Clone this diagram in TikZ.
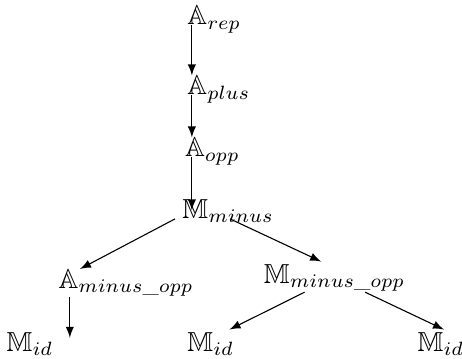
\documentclass[tikz,border=0pt]{standalone}
\usepackage{amsmath, amssymb}
\usepackage{tikz}
\usetikzlibrary{calc, positioning}

\begin{document}
\begin{tikzpicture}[>=latex, scale=1.0]
    \tikzset{term/.style={anchor=base west, inner sep=0pt}}
    \useasboundingbox (0,0) rectangle (5.91,4.59);

    % 1. Chuỗi các phép toán
    \node[term] (rep)   at (2.391,4.271) {$\mathbb{A}_{rep}$};
    \node[term] (plus)  at (2.391,3.376) {$\mathbb{A}_{plus}$};
    \node[term] (opp)   at (2.360,2.583) {$\mathbb{A}_{opp}$};
    \node[term] (minus) at (2.327,1.790) {$\mathbb{M}_{minus}$};

    % 2. Hai nhánh con
    \node[term] (aminusopp) at (0.742,0.900) {$\mathbb{A}_{minus\text{\_}opp}$};
    \node[term] (mminusopp) at (3.370,0.960) {$\mathbb{M}_{minus\text{\_}opp}$};

    % 3. Các lá
    \node[term] (idl) at (0.077,0.09) {$\mathbb{M}_{id}$};
    \node[term] (idm) at (2.391,0.09) {$\mathbb{M}_{id}$};
    \node[term] (idr) at (5.335,0.09) {$\mathbb{M}_{id}$};

    % 4. Mũi tên thẳng đứng
    \draw[->] ([xshift=1.8pt]rep.base west) -- ([xshift=1.8pt]rep.base west |- plus.north);
    \draw[->] ([xshift=1.8pt]plus.base west) -- ([xshift=1.8pt]plus.base west |- opp.north);
    \draw[->] ([xshift=1.8pt]plus.base west |- opp.base) -- ([xshift=1.8pt, yshift=-4pt]plus.base west |- minus.north);
    \draw[->] ([xshift=4.3pt]aminusopp.south west) -- ([xshift=4.3pt, yshift=-2pt]aminusopp.south west |- idl.north);

    % 5. Mũi tên xiên
    \draw[->] ([xshift=-2.5pt]minus.base west) -- ([xshift=8pt]aminusopp.north west);
    \draw[->] ([xshift=17.5pt]minus.base west) -- ([xshift=21pt, yshift=1pt]mminusopp.north west);
    \draw[->] ([xshift=15pt]mminusopp.south west) -- ([xshift=15.5pt, yshift=1pt]idm.north west);
    \draw[->] ([xshift=37pt]mminusopp.south west) -- ([xshift=9.8pt, yshift=1pt]idr.north west);
\end{tikzpicture}
\end{document}
